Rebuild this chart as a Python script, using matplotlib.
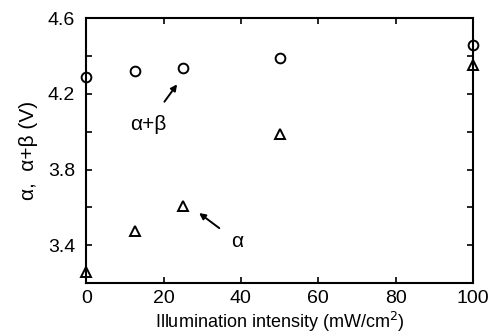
import matplotlib.pyplot as plt

plt.rcParams['font.family'] = ['Liberation Sans', 'DejaVu Sans']

# illumination intensity (mW/cm^2)
intensity = [0, 12.5, 25, 50, 100]
alpha_beta = [4.29, 4.32, 4.335, 4.39, 4.46]
alpha = [3.26, 3.475, 3.605, 3.985, 4.35]

fig, ax = plt.subplots(figsize=(4.9, 3.35), dpi=100)
fig.subplots_adjust(left=0.176, right=0.965, top=0.946, bottom=0.155)

ax.plot(intensity, alpha_beta, 'o', mfc='none', mec='black', ms=7, mew=1.4, clip_on=False)
ax.plot(intensity, alpha, '^', mfc='none', mec='black', ms=6.5, mew=1.4, clip_on=False)

ax.set_xlim(0, 100)
ax.set_ylim(3.2, 4.6)
ax.set_xticks([0, 20, 40, 60, 80, 100])
ax.set_yticks([3.4, 3.6, 3.8, 4.0, 4.2, 4.4, 4.6])
ax.set_yticklabels(['3.4', '', '3.8', '', '4.2', '', '4.6'])
ax.tick_params(direction='in', length=4, width=1.2, labelsize=14, top=True, right=True)
ax.tick_params(axis='y', pad=8)
ax.tick_params(axis='x', pad=5)
for s in ax.spines.values():
    s.set_linewidth(1.5)

ax.set_xlabel('Illumination intensity (mW/cm$^2$)', fontsize=13, labelpad=2)
ax.set_ylabel('α,  α+β (V)', fontsize=15, labelpad=7)

ax.annotate('α+β', xy=(23.5, 4.25), xytext=(16, 4.04), fontsize=15, ha='center', va='center',
            arrowprops=dict(arrowstyle='-|>', color='black', lw=1.4, mutation_scale=9, shrinkA=9, shrinkB=0))
ax.annotate('α', xy=(29.2, 3.57), xytext=(39, 3.42), fontsize=15, ha='center', va='center',
            arrowprops=dict(arrowstyle='-|>', color='black', lw=1.4, mutation_scale=9, shrinkA=8, shrinkB=0))

plt.savefig('out.png', dpi=100)
